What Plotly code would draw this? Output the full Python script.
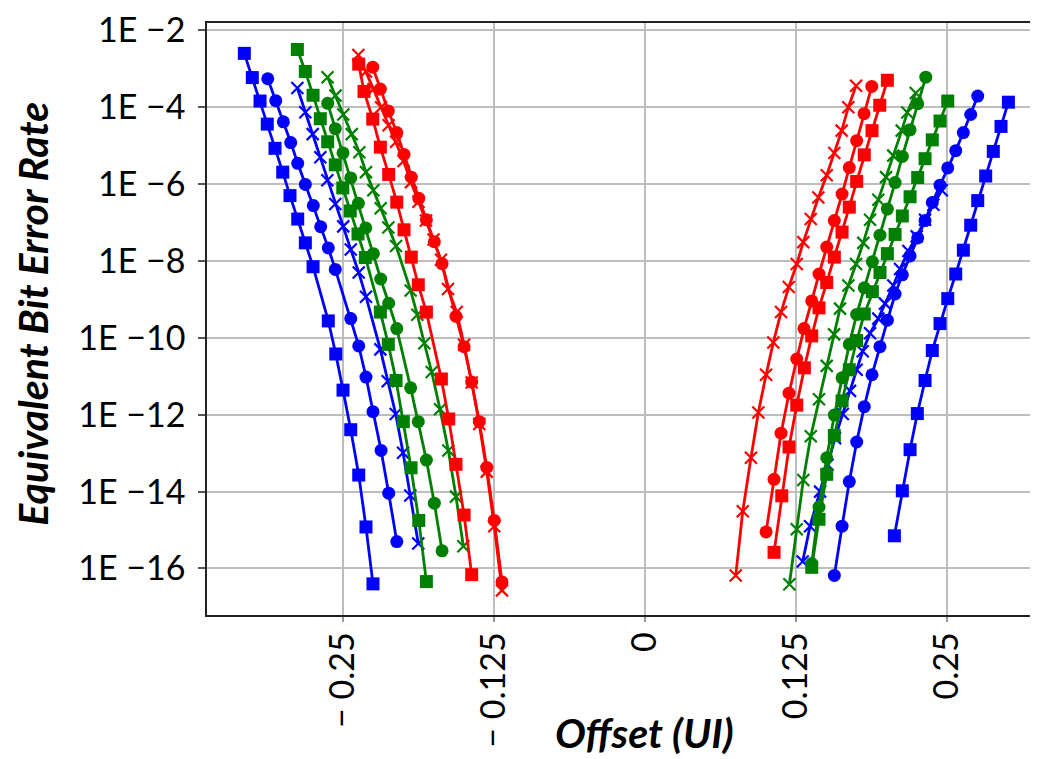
import numpy as np
import plotly.graph_objects as go

# ---------------- data (offset in UI, log10 of equivalent BER) ----------------
# Left side
blue_sq_l_x = [-0.3317, -0.3251, -0.3187, -0.3127, -0.3063, -0.2999, -0.2939, -0.2875, -0.2812, -0.2748, -0.2622, -0.2560, -0.2500, -0.2436, -0.2370, -0.2310, -0.2252]
blue_sq_l_log = [-2.60, -3.23, -3.84, -4.44, -5.07, -5.69, -6.30, -6.91, -7.53, -8.15, -9.56, -10.42, -11.36, -12.39, -13.57, -14.92, -16.40]

blue_ci_l_x = [-0.3123, -0.3057, -0.2994, -0.2933, -0.2875, -0.2812, -0.2746, -0.2685, -0.2622, -0.2564, -0.2436, -0.2370, -0.2310, -0.2252, -0.2185, -0.2122, -0.2055]
blue_ci_l_log = [-3.26, -3.83, -4.38, -4.92, -5.46, -6.01, -6.56, -7.11, -7.66, -8.22, -9.50, -10.21, -11.02, -11.92, -12.93, -14.04, -15.30]

blue_x_l_x = [-0.2878, -0.2812, -0.2751, -0.2688, -0.2630, -0.2564, -0.2498, -0.2436, -0.2370, -0.2310, -0.2191, -0.2130, -0.2064, -0.2003, -0.1943, -0.1877]
blue_x_l_log = [-3.50, -4.13, -4.70, -5.30, -5.90, -6.52, -7.10, -7.70, -8.30, -8.93, -10.30, -11.13, -11.98, -12.99, -14.10, -15.35]

green_sq_l_x = [-0.2878, -0.2812, -0.2748, -0.2688, -0.2627, -0.2564, -0.2502, -0.2440, -0.2376, -0.2315, -0.2191, -0.2125, -0.2061, -0.2001, -0.1937, -0.1873, -0.1810]
green_sq_l_log = [-2.50, -3.07, -3.69, -4.30, -4.90, -5.50, -6.10, -6.70, -7.30, -7.91, -9.33, -10.17, -11.11, -12.18, -13.38, -14.75, -16.34]

green_ci_l_x = [-0.2627, -0.2564, -0.2500, -0.2436, -0.2373, -0.2312, -0.2249, -0.2188, -0.2122, -0.2055, -0.1940, -0.1877, -0.1810, -0.1744, -0.1680]
green_ci_l_log = [-3.90, -4.56, -5.19, -5.84, -6.50, -7.14, -7.81, -8.47, -9.10, -9.76, -11.30, -12.18, -13.18, -14.30, -15.54]

green_x_l_x = [-0.2628, -0.2562, -0.2498, -0.2428, -0.2365, -0.2310, -0.2249, -0.2188, -0.2125, -0.2061, -0.1940, -0.1885, -0.1827, -0.1766, -0.1697, -0.1628, -0.1565, -0.1504]
green_x_l_log = [-3.22, -3.70, -4.19, -4.70, -5.17, -5.69, -6.16, -6.63, -7.13, -7.61, -8.77, -9.40, -10.14, -10.89, -11.86, -12.93, -14.13, -15.42]

red_sq_l_x = [-0.2370, -0.2326, -0.2254, -0.2191, -0.2122, -0.2055, -0.1995, -0.1935, -0.1877, -0.1810, -0.1686, -0.1625, -0.1565, -0.1498, -0.1435]
red_sq_l_log = [-2.88, -3.59, -4.31, -5.04, -5.75, -6.47, -7.19, -7.90, -8.62, -9.33, -11.07, -12.11, -13.29, -14.61, -16.16]

red_ci_l_x = [-0.2254, -0.2191, -0.2125, -0.2055, -0.1995, -0.1935, -0.1873, -0.1810, -0.1744, -0.1680, -0.1565, -0.1498, -0.1435, -0.1372, -0.1310, -0.1248, -0.1184]
red_ci_l_log = [-2.96, -3.53, -4.10, -4.66, -5.23, -5.82, -6.37, -6.93, -7.50, -8.07, -9.44, -10.23, -11.15, -12.18, -13.37, -14.75, -16.35]

red_x_l_x = [-0.2373, -0.2310, -0.2248, -0.2185, -0.2123, -0.2061, -0.1999, -0.1937, -0.1875, -0.1813, -0.1751, -0.1689, -0.1631, -0.1559, -0.1498, -0.1435, -0.1372, -0.1310, -0.1248, -0.1184]
red_x_l_log = [-2.64, -3.07, -3.53, -4.00, -4.47, -4.90, -5.40, -5.95, -6.46, -6.95, -7.44, -7.97, -8.73, -9.33, -10.18, -11.16, -12.24, -13.48, -14.90, -16.57]

# Right side
red_x_r_x = [0.1747, 0.1683, 0.1628, 0.1567, 0.1504, 0.1435, 0.1372, 0.1310, 0.1256, 0.1190, 0.1126, 0.1062, 0.1002, 0.0938, 0.0877, 0.0809, 0.0751]
red_x_r_log = [-3.44, -4.00, -4.61, -5.19, -5.77, -6.35, -6.91, -7.51, -8.08, -8.68, -9.33, -10.12, -10.96, -11.94, -13.12, -14.51, -16.18]

red_ci_r_x = [0.1877, 0.1813, 0.1752, 0.1691, 0.1631, 0.1567, 0.1504, 0.1440, 0.1380, 0.1316, 0.1256, 0.1192, 0.1126, 0.1068, 0.1002]
red_ci_r_log = [-3.46, -4.17, -4.87, -5.57, -6.26, -6.95, -7.64, -8.34, -9.04, -9.76, -10.55, -11.44, -12.48, -13.68, -15.05]

red_sq_r_x = [0.2006, 0.1943, 0.1879, 0.1815, 0.1752, 0.1691, 0.1631, 0.1567, 0.1504, 0.1440, 0.1380, 0.1319, 0.1256, 0.1192, 0.1132, 0.1068]
red_sq_r_log = [-3.30, -3.95, -4.61, -5.24, -5.93, -6.60, -7.25, -7.90, -8.56, -9.22, -9.95, -10.78, -11.75, -12.84, -14.11, -15.58]

green_ci_r_x = [0.2324, 0.2257, 0.2194, 0.2130, 0.2070, 0.2006, 0.1945, 0.1882, 0.1815, 0.1752, 0.1691, 0.1631, 0.1567, 0.1504, 0.1440, 0.1380]
green_ci_r_log = [-3.22, -3.91, -4.59, -5.28, -5.96, -6.65, -7.33, -8.02, -8.70, -9.39, -10.17, -11.04, -12.01, -13.12, -14.40, -15.87]

green_sq_r_x = [0.2506, 0.2442, 0.2378, 0.2318, 0.2257, 0.2194, 0.2130, 0.2070, 0.2006, 0.1945, 0.1882, 0.1815, 0.1752, 0.1691, 0.1631, 0.1567, 0.1504, 0.1440, 0.1380]
green_sq_r_log = [-3.84, -4.36, -4.85, -5.34, -5.83, -6.33, -6.83, -7.31, -7.81, -8.30, -8.80, -9.38, -10.07, -10.83, -11.64, -12.54, -13.55, -14.72, -15.97]

green_x_r_x = [0.2241, 0.2171, 0.2125, 0.2055, 0.1995, 0.1931, 0.1863, 0.1807, 0.1747, 0.1683, 0.1614, 0.1565, 0.1504, 0.1440, 0.1372, 0.1310, 0.1256, 0.1195]
green_x_r_log = [-3.63, -4.14, -4.61, -5.26, -5.82, -6.41, -6.93, -7.53, -8.08, -8.64, -9.24, -9.91, -10.73, -11.60, -12.56, -13.70, -14.98, -16.41]

blue_ci_r_x = [0.2754, 0.2696, 0.2635, 0.2572, 0.2506, 0.2442, 0.2378, 0.2318, 0.2257, 0.2194, 0.2130, 0.2070, 0.2006, 0.1945, 0.1879, 0.1815, 0.1752, 0.1691, 0.1631, 0.1567]
blue_ci_r_log = [-3.71, -4.19, -4.66, -5.13, -5.58, -6.03, -6.48, -6.95, -7.40, -7.87, -8.36, -8.86, -9.54, -10.23, -10.96, -11.79, -12.71, -13.74, -14.90, -16.18]

blue_x_r_x = [0.2456, 0.2387, 0.2318, 0.2249, 0.2180, 0.2111, 0.2055, 0.1987, 0.1931, 0.1863, 0.1802, 0.1752, 0.1697, 0.1637, 0.1573, 0.1511, 0.1449, 0.1366, 0.1305]
blue_x_r_log = [-6.16, -6.54, -6.93, -7.36, -7.74, -8.21, -8.64, -9.11, -9.50, -9.88, -10.35, -10.83, -11.38, -11.98, -12.61, -13.30, -14.00, -14.90, -15.82]

blue_sq_r_x = [0.3008, 0.2947, 0.2883, 0.2820, 0.2754, 0.2696, 0.2635, 0.2572, 0.2506, 0.2442, 0.2378, 0.2318, 0.2254, 0.2194, 0.2130, 0.2064]
blue_sq_r_log = [-3.87, -4.50, -5.15, -5.79, -6.43, -7.07, -7.72, -8.34, -8.98, -9.63, -10.33, -11.11, -11.97, -12.91, -13.98, -15.15]

# Axis ticks
x_tick_vals = [-0.25, -0.125, 0, 0.125, 0.25]
x_tick_text = ["\u2212 0.25", "\u2212 0.125", "0", "0.125", "0.25"]
y_tick_exps = [-2, -4, -6, -8, -10, -12, -14, -16]
y_tick_text = ["1E \u2212" + str(-e) for e in y_tick_exps]

# ---------------- figure ----------------
BLUE, GREEN, RED = "#0000FF", "#008000", "#FF0000"

series = [
    (blue_sq_l_x, blue_sq_l_log, BLUE, "square"),
    (blue_ci_l_x, blue_ci_l_log, BLUE, "circle"),
    (blue_x_l_x, blue_x_l_log, BLUE, "x"),
    (green_sq_l_x, green_sq_l_log, GREEN, "square"),
    (green_ci_l_x, green_ci_l_log, GREEN, "circle"),
    (green_x_l_x, green_x_l_log, GREEN, "x"),
    (red_sq_l_x, red_sq_l_log, RED, "square"),
    (red_ci_l_x, red_ci_l_log, RED, "circle"),
    (red_x_l_x, red_x_l_log, RED, "x"),
    (blue_sq_r_x, blue_sq_r_log, BLUE, "square"),
    (blue_ci_r_x, blue_ci_r_log, BLUE, "circle"),
    (blue_x_r_x, blue_x_r_log, BLUE, "x"),
    (green_sq_r_x, green_sq_r_log, GREEN, "square"),
    (green_ci_r_x, green_ci_r_log, GREEN, "circle"),
    (green_x_r_x, green_x_r_log, GREEN, "x"),
    (red_sq_r_x, red_sq_r_log, RED, "square"),
    (red_ci_r_x, red_ci_r_log, RED, "circle"),
    (red_x_r_x, red_x_r_log, RED, "x"),
]

fig = go.Figure()
for xs, logs, color, kind in series:
    ys = np.power(10.0, np.array(logs))
    if kind == "x":
        marker = dict(symbol="x-thin", size=12, color=color,
                      line=dict(color=color, width=2.2))
    elif kind == "square":
        marker = dict(symbol="square", size=13, color=color, line=dict(width=0))
    else:
        marker = dict(symbol="circle", size=13, color=color, line=dict(width=0))
    fig.add_trace(go.Scatter(x=xs, y=ys, mode="lines+markers",
                             line=dict(color=color, width=2.8),
                             marker=marker, showlegend=False, cliponaxis=False))

FONT = "Lato, 'Open Sans', sans-serif"

# The page body adds an 8 px offset; the figure is sized so it still fills the window.
fig.update_layout(
    width=1030, height=751,
    margin=dict(l=199, r=0, t=8, b=144),
    paper_bgcolor="white", plot_bgcolor="white",
    font=dict(family=FONT, color="black"),
    showlegend=False,
    xaxis=dict(
        range=[-0.3626, 0.3253],
        tickvals=x_tick_vals, ticktext=x_tick_text,
        tickangle=-90,
        tickfont=dict(family=FONT, size=34, color="black"),
        ticklabelstandoff=-3,
        ticklabeloverflow="allow",
        showgrid=True, gridcolor="#bdbdbd", gridwidth=2,
        zeroline=False,
        showline=True, linecolor="#222222", linewidth=1.5, mirror=True,
        ticks="outside", ticklen=5, tickcolor="#999999", tickwidth=1.5,
    ),
    yaxis=dict(
        type="log",
        range=[-17.21, -1.81],
        tickvals=[10.0 ** e for e in y_tick_exps], ticktext=y_tick_text,
        tickfont=dict(family=FONT, size=34, color="black"),
        ticklabelstandoff=6,
        ticklabeloverflow="allow",
        showgrid=True, gridcolor="#bdbdbd", gridwidth=2,
        zeroline=False,
        showline=True, linecolor="#222222", linewidth=1.5,
        ticks="outside", ticklen=7, tickcolor="#555555", tickwidth=1.5,
    ),
    annotations=[
        dict(text="<b><i>Equivalent Bit Error Rate</i></b>", xref="paper", yref="paper",
             x=-0.2094, y=0.509, xanchor="center", yanchor="middle", textangle=-90,
             showarrow=False, font=dict(family=FONT, size=41, color="black")),
        dict(text="<b><i>Offset (UI)</i></b>", xref="paper", yref="paper",
             x=0.527, y=-0.1987, xanchor="center", yanchor="middle",
             showarrow=False, font=dict(family=FONT, size=41, color="black")),
    ],
)

fig.write_html("out.html")
